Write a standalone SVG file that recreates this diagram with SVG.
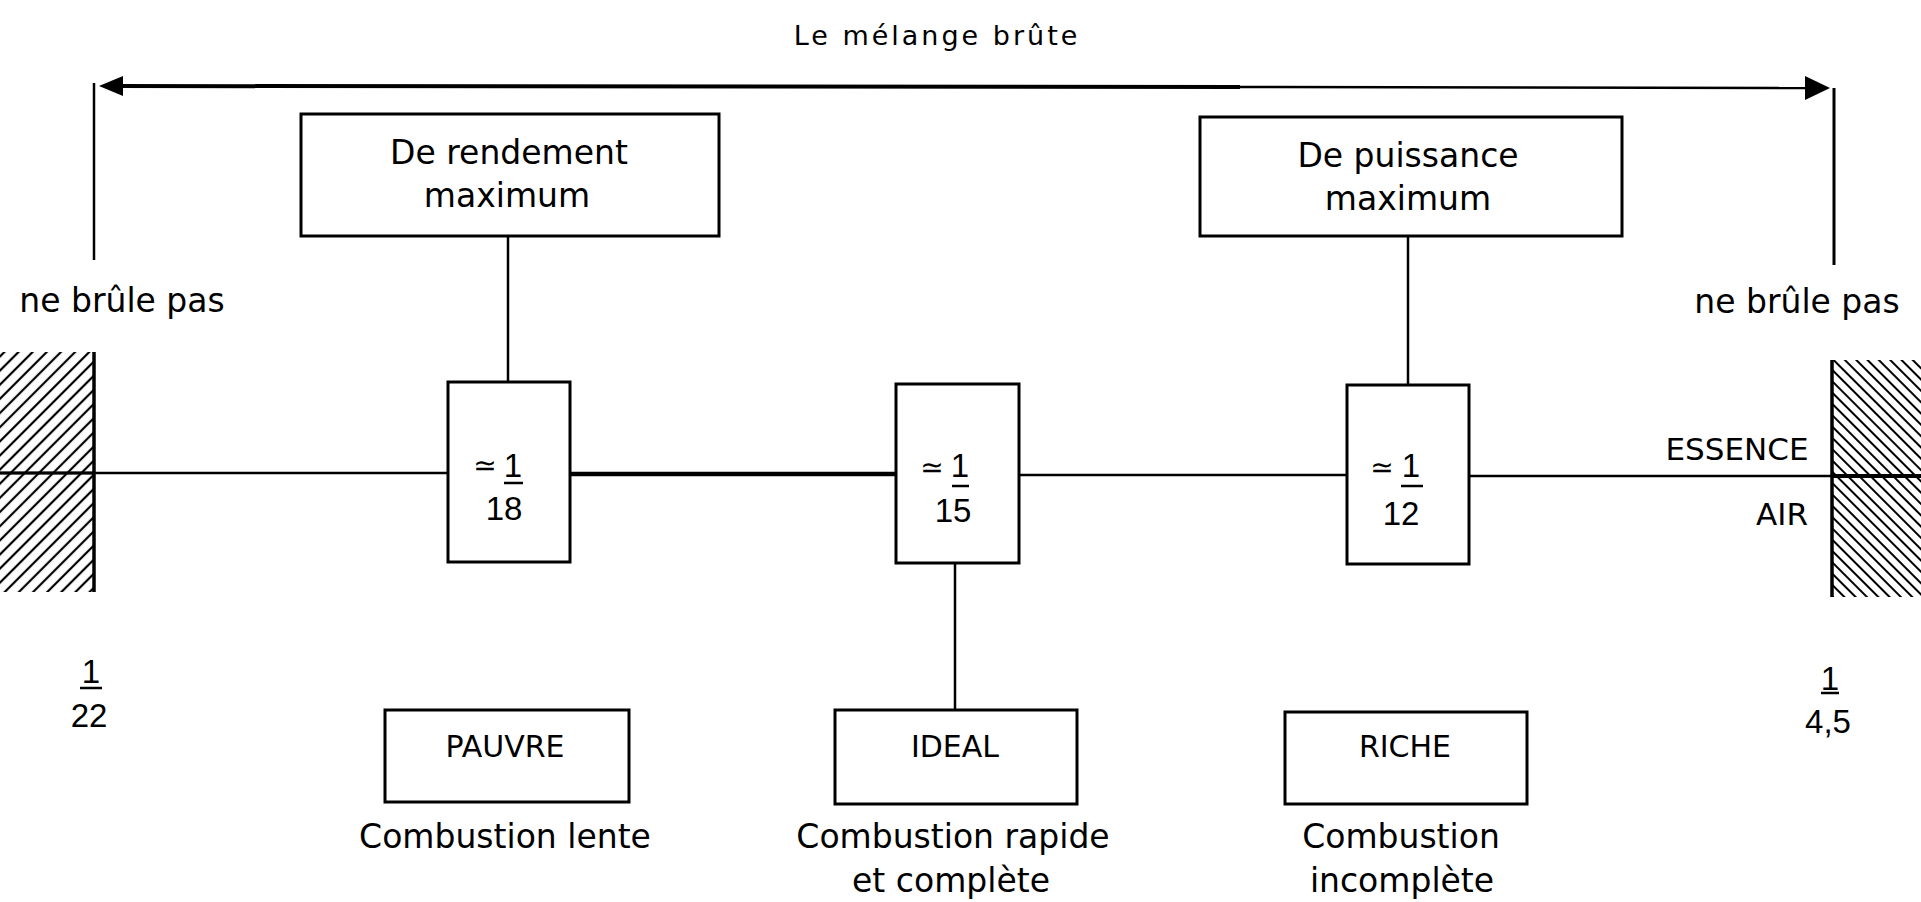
<svg xmlns="http://www.w3.org/2000/svg" width="1921" height="902" viewBox="0 0 1921 902">
<defs>
<style>
.t{font-family:"DejaVu Sans","Liberation Sans",sans-serif;fill:#000;text-anchor:middle}
.b{font-size:33px}
.n{font-family:"Liberation Sans","DejaVu Sans",sans-serif;font-size:33px;fill:#000;text-anchor:middle}
.box{fill:#fff;stroke:#000;stroke-width:3}
.ln{stroke:#000;fill:none}
</style>
<pattern id="hatchL" patternUnits="userSpaceOnUse" width="10" height="10" patternTransform="rotate(45)">
<line x1="2" y1="0" x2="2" y2="10" stroke="#000" stroke-width="2.2"/>
</pattern>
<pattern id="hatchR" patternUnits="userSpaceOnUse" width="8" height="8" patternTransform="rotate(-45)">
<line x1="2" y1="0" x2="2" y2="8" stroke="#000" stroke-width="2"/>
</pattern>
</defs>
<rect width="1921" height="902" fill="#fff"/>

<text class="t" x="937" y="45" font-size="27" letter-spacing="3">Le mélange brûte</text>

<g id="connectors">
<line class="ln" x1="115" y1="86" x2="1240" y2="87" stroke-width="4"/>
<line class="ln" x1="1240" y1="87" x2="1812" y2="88" stroke-width="2.5"/>
<polygon points="99,86 123,76 123,96" fill="#000"/>
<polygon points="1830,88 1805,76 1805,100" fill="#000"/>
<line class="ln" x1="94" y1="83" x2="94" y2="260" stroke-width="2.5"/>
<line class="ln" x1="1834" y1="88" x2="1834" y2="265" stroke-width="3"/>
<line class="ln" x1="508" y1="236" x2="508" y2="382" stroke-width="2.5"/>
<line class="ln" x1="1408" y1="236" x2="1408" y2="385" stroke-width="2.5"/>
<line class="ln" x1="955" y1="563" x2="955" y2="710" stroke-width="2.5"/>
<line class="ln" x1="0" y1="473" x2="448" y2="473" stroke-width="2.5"/>
<line class="ln" x1="570" y1="474" x2="896" y2="474" stroke-width="4.5"/>
<line class="ln" x1="1019" y1="475" x2="1347" y2="475" stroke-width="2.5"/>
<line class="ln" x1="1469" y1="476" x2="1832" y2="476" stroke-width="2.5"/>
<line class="ln" x1="1832" y1="476" x2="1921" y2="476" stroke-width="4"/>
</g>

<g id="limit-left">
<rect x="0" y="352" width="94" height="240" fill="url(#hatchL)"/>
<line class="ln" x1="94" y1="352" x2="94" y2="592" stroke-width="3.5"/>
<line class="ln" x1="0" y1="473" x2="94" y2="473" stroke-width="3"/>
<text class="t b" x="122" y="312">ne brûle pas</text>
<text class="n" x="91" y="683">1</text>
<line class="ln" x1="80" y1="688" x2="102" y2="688" stroke-width="2.5"/>
<text class="n" x="89" y="727">22</text>
</g>

<g id="limit-right">
<rect x="1832" y="360" width="89" height="237" fill="url(#hatchR)"/>
<line class="ln" x1="1832" y1="360" x2="1832" y2="597" stroke-width="3.5"/>
<text class="t b" x="1797" y="313">ne brûle pas</text>
<text class="t" x="1737" y="460" font-size="31">ESSENCE</text>
<text class="t" x="1782" y="525" font-size="31">AIR</text>
<text class="n" x="1830" y="690">1</text>
<line class="ln" x1="1821" y1="693" x2="1839" y2="693" stroke-width="2.5"/>
<text class="n" x="1828" y="733">4,5</text>
</g>

<g id="box-rendement">
<rect class="box" x="301" y="114" width="418" height="122"/>
<text class="t b" x="509" y="164">De rendement</text>
<text class="t b" x="507" y="207">maximum</text>
</g>

<g id="box-puissance">
<rect class="box" x="1200" y="117" width="422" height="119"/>
<text class="t b" x="1408" y="167">De puissance</text>
<text class="t b" x="1408" y="210">maximum</text>
</g>

<g id="ratio-18">
<rect class="box" x="448" y="382" width="122" height="180"/>
<text class="t" x="485" y="475" font-size="28">≃</text>
<text class="n" x="513" y="477">1</text>
<line class="ln" x1="504" y1="483" x2="523" y2="483" stroke-width="2.5"/>
<text class="n" x="504" y="520">18</text>
</g>

<g id="ratio-15">
<rect class="box" x="896" y="384" width="123" height="179"/>
<text class="t" x="932" y="477" font-size="28">≃</text>
<text class="n" x="960" y="477">1</text>
<line class="ln" x1="952" y1="486" x2="969" y2="486" stroke-width="2.5"/>
<text class="n" x="953" y="522">15</text>
</g>

<g id="ratio-12">
<rect class="box" x="1347" y="385" width="122" height="179"/>
<text class="t" x="1382" y="477" font-size="28">≃</text>
<text class="n" x="1411" y="477">1</text>
<line class="ln" x1="1401" y1="486" x2="1423" y2="486" stroke-width="2.5"/>
<text class="n" x="1401" y="525">12</text>
</g>

<g id="box-pauvre">
<rect class="box" x="385" y="710" width="244" height="92"/>
<text class="t" x="505" y="757" font-size="30">PAUVRE</text>
<text class="t b" x="505" y="848">Combustion lente</text>
</g>

<g id="box-ideal">
<rect class="box" x="835" y="710" width="242" height="94"/>
<text class="t" x="955" y="757" font-size="30">IDEAL</text>
<text class="t b" x="953" y="848">Combustion rapide</text>
<text class="t b" x="951" y="892">et complète</text>
</g>

<g id="box-riche">
<rect class="box" x="1285" y="712" width="242" height="92"/>
<text class="t" x="1405" y="757" font-size="30">RICHE</text>
<text class="t b" x="1401" y="848">Combustion</text>
<text class="t b" x="1402" y="892">incomplète</text>
</g>
</svg>
